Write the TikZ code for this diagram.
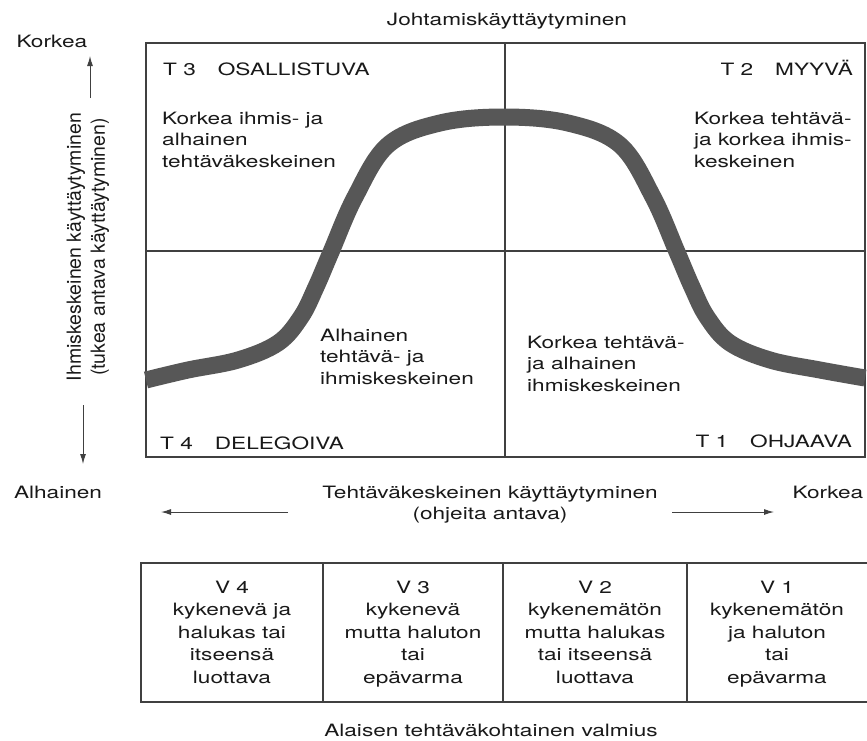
\documentclass[tikz,border=0pt]{standalone}
\usepackage{fontspec}
\setmainfont{TeX Gyre Heros}[FakeStretch=1.33]
\newfontfamily\sidefont{TeX Gyre Heros}
\usetikzlibrary{arrows.meta,positioning}
\newcommand{\tq}[2]{T~#1\hspace{22pt}#2}

\begin{document}
\begin{tikzpicture}[
    x=1pt, y=-1pt,
    font=\fontsize{17}{21.5}\selectfont,
    every node/.style={text=black!90},
    frm/.style ={line width=1.1pt, draw=black!75},
    arr/.style ={-{Latex[length=10pt,width=6pt]}, line width=1pt, draw=black!75},
    txt/.style ={inner sep=0pt, align=left, anchor=north west},
    hdr/.style ={inner sep=0pt},
    cell/.style={inner sep=0pt, align=center, anchor=north,
                 font=\fontsize{17}{22.5}\selectfont},
    band/.style={line width=17pt, draw=black!66},
  ]
  \useasboundingbox[fill=white] (0,0) rectangle (867,740);
  % quadrant grid
  \coordinate (nw) at (146,43);
  \coordinate (se) at (865,457);
  \coordinate (mt) at (505,43);
  \coordinate (mb) at (505,457);
  \coordinate (ml) at (146,251);
  \coordinate (mr) at (865,251);
  \draw[frm] (nw) rectangle (se);
  \draw[frm] (mt) -- (mb);
  \draw[frm] (ml) -- (mr);
  % leadership curve
  \draw[band] plot[smooth, tension=0.6] coordinates {
    (146,380) (188,370) (238,360) (278,343) (301,317) (316,287) (331,252)
    (355,197) (388,145) (440,123) (504,117) (568,123) (620,145) (653,197)
    (677,252) (692,287) (707,317) (730,343) (770,360) (820,370) (865,378)};
  % quadrant headers
  \node[hdr, anchor=base west] (t3) at (163,75)  {\tq{3}{OSALLISTUVA}};
  \node[hdr, anchor=base east] (t2) at (853,75)  {\tq{2}{MYYVÄ}};
  \node[hdr, anchor=base west] (t4) at (160,449) {\tq{4}{DELEGOIVA}};
  \node[hdr, anchor=base east] (t1) at (852,447) {\tq{1}{OHJAAVA}};
  % quadrant texts
  \node[txt] (q3) at (162,111.8) {Korkea ihmis- ja\\alhainen\\tehtäväkeskeinen};
  \node[txt] (q2) at (694,111.8) {Korkea tehtävä-\\ja korkea ihmis-\\keskeinen};
  \node[txt] (q4) at (320,328.8) {Alhainen\\tehtävä- ja\\ihmiskeskeinen};
  \node[txt] (q1) at (527,335.8) {Korkea tehtävä-\\ja alhainen\\ihmiskeskeinen};
  % axes
  \node[anchor=base] (ttop) at (507,25) {Johtamiskäyttäytyminen};
  \node[anchor=base west] (yhi) at (13,47) {Korkea};
  \node[rotate=90, align=center, inner sep=0pt,
        font=\sidefont\fontsize{19.5}{24}\selectfont] (yax) at (88,247)
       {Ihmiskeskeinen käyttäytyminen\\(tukea antava käyttäytyminen)};
  \node[anchor=base] (ylo) at (58,498) {Alhainen};
  \node[anchor=north, align=center, inner sep=0pt] (xax) at (490,485.8)
       {Tehtäväkeskeinen käyttäytyminen\\(ohjeita antava)};
  \node[anchor=base] (xhi) at (828,498) {Korkea};
  \coordinate (upa) at (90,98);
  \coordinate (upb) at (90,56);
  \coordinate (dna) at (83,405);
  \coordinate (dnb) at (83,464);
  \coordinate (lfa) at (288,512);
  \coordinate (lfb) at (161,512);
  \coordinate (rta) at (672,512);
  \coordinate (rtb) at (774,512);
  \draw[arr] (upa) -- (upb);
  \draw[arr] (dna) -- (dnb);
  \draw[arr] (lfa) -- (lfb);
  \draw[arr] (rta) -- (rtb);
  % readiness table
  \coordinate (bnw) at (141,563);
  \coordinate (bsw) at (141,702);
  \coordinate (bne) at (867,563);
  \coordinate (bse) at (867,702);
  \draw[frm] (bne) -- (bnw) -- (bsw) -- (bse);
  \draw[frm] (323,563) -- (323,702);
  \draw[frm] (503,563) -- (503,702);
  \draw[frm] (687,563) -- (687,702);
  \node[cell] (v4) at (232,580.8) {V 4\\kykenevä ja\\halukas tai\\itseensä\\luottava};
  \node[cell] (v3) at (413,580.8) {V 3\\kykenevä\\mutta haluton\\tai\\epävarma};
  \node[cell] (v2) at (595,580.8) {V 2\\kykenemätön\\mutta halukas\\tai itseensä\\luottava};
  \node[cell] (v1) at (777,580.8) {V 1\\kykenemätön\\ja haluton\\tai\\epävarma};
  \node[anchor=base] (vlb) at (491,736) {Alaisen tehtäväkohtainen valmius};
\end{tikzpicture}
\end{document}
